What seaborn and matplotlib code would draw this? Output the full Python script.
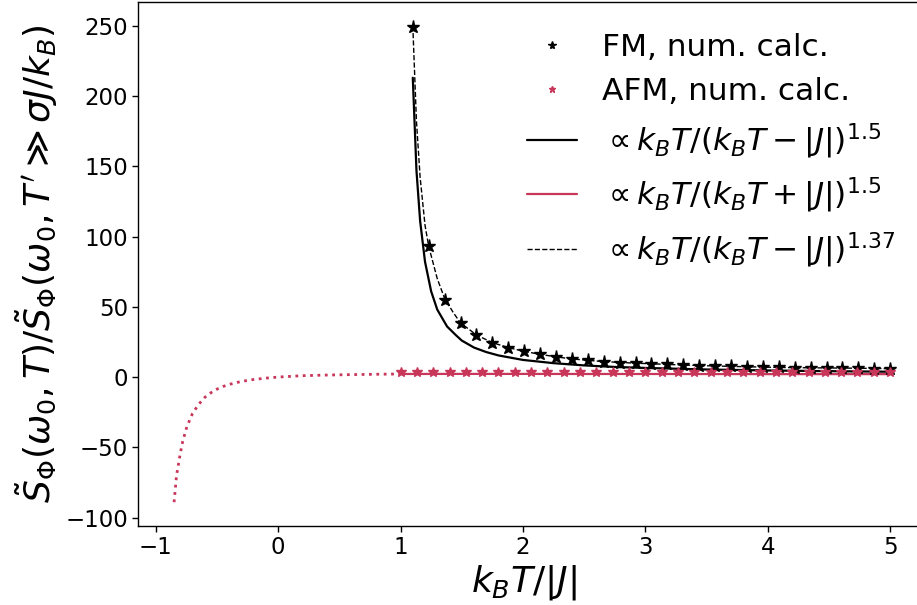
import numpy as np
import pandas as pd
import matplotlib
matplotlib.use("Agg")
import matplotlib.pyplot as plt
import seaborn as sns

# ---- data ----
fm_x = [1.10, 1.23, 1.36, 1.49, 1.62, 1.75, 1.88, 2.01, 2.14, 2.27, 2.40, 2.53, 2.66,
        2.79, 2.92, 3.05, 3.18, 3.31, 3.44, 3.57, 3.70, 3.83, 3.96, 4.09, 4.22, 4.35,
        4.48, 4.61, 4.74, 4.87, 5.00]
fm_y = [249, 93, 55, 38.5, 30, 24.5, 21, 18.3, 16.2, 14.4, 12.9, 11.8, 11.0,
        10.3, 9.9, 9.5, 9.0, 8.6, 8.2, 7.9, 7.6, 7.3, 7.1, 6.9, 6.7, 6.6,
        6.5, 6.4, 6.3, 6.1, 6.0]

afm_x = [1.000, 1.133, 1.267, 1.400, 1.533, 1.667, 1.800, 1.933, 2.067, 2.200, 2.333,
         2.467, 2.600, 2.733, 2.867, 3.000, 3.133, 3.267, 3.400, 3.533, 3.667, 3.800,
         3.933, 4.067, 4.200, 4.333, 4.467, 4.600, 4.733, 4.867, 5.000]
afm_y = [3.5, 3.5, 3.5, 3.5, 3.5, 3.5, 3.5, 3.5, 3.5, 3.5, 3.5,
         3.5, 3.5, 3.5, 3.5, 3.5, 3.5, 3.5, 3.5, 3.5, 3.5, 3.5,
         3.5, 3.5, 3.5, 3.5, 3.5, 3.5, 3.5, 3.5, 3.5]

fm15_x = [1.10, 1.13, 1.16, 1.20, 1.25, 1.30, 1.38, 1.45, 1.50, 1.60, 1.70, 1.80,
          2.00, 2.25, 2.50, 2.75, 3.00, 3.50, 4.00, 4.50, 5.00]
fm15_y = [213, 147, 111, 82, 61, 48, 36, 30, 26, 21, 17.8, 15.4,
          12.2, 9.9, 8.3, 7.2, 6.5, 5.4, 4.7, 4.2, 3.8]

afm15_x = [1.0, 1.5, 2.0, 2.5, 3.0, 3.5, 4.0, 4.5, 5.0]
afm15_y = [2.2, 2.25, 2.25, 2.2, 2.2, 2.15, 2.1, 2.1, 2.1]

afm_neg_x = [-0.85, -0.83, -0.80, -0.78, -0.75, -0.72, -0.70, -0.65, -0.60, -0.55,
             -0.50, -0.45, -0.40, -0.30, -0.20, -0.10, 0.00, 0.20, 0.40, 0.60,
             0.80, 1.00]
afm_neg_y = [-89, -70, -54.6, -46, -36.6, -30, -26, -19.5, -14.5, -11.2,
             -8.6, -6.7, -5.2, -3.1, -1.7, -0.75, 0.0, 1.0, 1.45, 1.75,
             2.0, 2.2]

fm137_x = [1.10, 1.13, 1.16, 1.20, 1.23, 1.30, 1.36, 1.43, 1.49, 1.62, 1.75, 1.88,
           2.01, 2.14, 2.27, 2.40, 2.66, 2.92, 3.18, 3.44, 3.70, 3.96, 4.22, 4.48,
           4.74, 5.00]
fm137_y = [250, 182, 142, 108, 93, 70, 56, 46, 38.5, 30, 24.5, 21,
           18.3, 16.2, 14.4, 12.9, 11.0, 9.9, 9.0, 8.2, 7.6, 7.1, 6.7, 6.5,
           6.3, 6.0]

labels = ["FM, num. calc.", "AFM, num. calc.",
          r"$\propto k_BT/(k_BT-|J|)^{1.5}$",
          r"$\propto k_BT/(k_BT+|J|)^{1.5}$",
          r"$\propto k_BT/(k_BT-|J|)^{1.37}$"]

xticks = [-1, 0, 1, 2, 3, 4, 5]
yticks = [-100, -50, 0, 50, 100, 150, 200, 250]

red = "#c8375a"

sns.set_theme(style="ticks")
plt.rcParams["font.family"] = ["DejaVu Sans"]
plt.rcParams["mathtext.fontset"] = "dejavusans"
plt.rcParams["text.color"] = "black"
plt.rcParams["axes.labelcolor"] = "black"
plt.rcParams["xtick.color"] = "black"
plt.rcParams["ytick.color"] = "black"
plt.rcParams["axes.edgecolor"] = "black"

fig = plt.figure(figsize=(9.17, 6.05), dpi=100)
ax = fig.add_axes([0.1508, 0.1306, 0.859, 0.8663])

df_fm = pd.DataFrame({"x": fm_x, "y": fm_y})
df_afm = pd.DataFrame({"x": afm_x, "y": afm_y})

ax.plot(df_fm["x"], df_fm["y"], linestyle="none", marker="*", color="black",
        markersize=9.5, label=labels[0], zorder=4)
ax.plot(df_afm["x"], df_afm["y"], linestyle="none", marker="*", color=red,
        markersize=7.5, label=labels[1], zorder=4)

sns.lineplot(x=fm15_x, y=fm15_y, ax=ax, color="black", linewidth=1.6,
             label=labels[2], sort=False)
sns.lineplot(x=afm15_x, y=afm15_y, ax=ax, color=red, linewidth=1.6,
             label=labels[3], sort=False)
sns.lineplot(x=fm137_x, y=fm137_y, ax=ax, color="black", linewidth=1.0,
             linestyle="--", label=labels[4], sort=False)
sns.lineplot(x=afm_neg_x, y=afm_neg_y, ax=ax, color=red, linewidth=2.0,
             linestyle=":", sort=False)

ax.set_xticks(xticks)
ax.set_yticks(yticks)
ax.tick_params(axis="both", labelsize=16.5, direction="out", length=4, width=1,
               color="black", labelcolor="black")
for s in ax.spines.values():
    s.set_color("black")
    s.set_linewidth(1.0)

ax.set_xlabel(r"$k_BT/|J|$", fontsize=26, color="black")
ax.xaxis.set_label_coords(0.49, -0.07)
ax.set_ylabel(r"$\tilde{S}_\Phi(\omega_0,T)/\tilde{S}_\Phi(\omega_0,T'\gg\sigma J/k_B)$",
              fontsize=26, labelpad=4, color="black")

leg = ax.legend(loc="upper right", fontsize=22.5, frameon=False, markerscale=0.6,
                labelspacing=0.48, borderaxespad=0.6, handletextpad=0.8,
                handlelength=1.6)
for t in leg.get_texts():
    t.set_color("black")

fig.savefig("out.png", dpi=100)
